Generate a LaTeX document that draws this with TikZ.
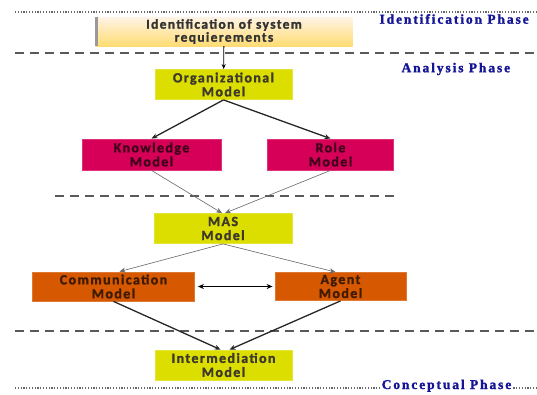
\documentclass[tikz,border=0pt]{standalone}
\usepackage{fontspec}
\setmainfont{Carlito}
\newfontfamily\phasefont[LetterSpace=14, BoldFeatures={FakeBold=1.5}]{Liberation Serif}
\newfontfamily\boxfont[LetterSpace=10, BoldFeatures={FakeBold=1.6}]{Carlito}
\usetikzlibrary{arrows.meta}

\definecolor{modelyellow}{RGB}{220,222,0}
\definecolor{modelred}{RGB}{214,0,88}
\definecolor{modelorange}{RGB}{214,88,0}
\definecolor{phaseblue}{RGB}{20,20,150}

\tikzset{
  model/.style={draw=#1!80!white, fill=#1, line width=0.8pt, minimum height=30pt,
    align=center, font=\boxfont\bfseries\fontsize{14}{14}\selectfont, inner sep=1pt},
  phase/.style={text=phaseblue, font=\phasefont\bfseries\fontsize{13.5}{13}\selectfont, anchor=west},
  fat/.style={-{Stealth[length=6pt,width=5pt]}, line width=1.3pt, black!85},
  thin/.style={-{Stealth[length=6pt,width=5pt]}, line width=0.6pt, black!60},
  sep/.style={line width=1.3pt, black!65, dash pattern=on 9pt off 6pt},
  dots/.style={line width=1.4pt, black!60, dash pattern=on 1.2pt off 1.6pt}
}

\begin{document}
\begin{tikzpicture}[x=1pt,y=-1pt]
\useasboundingbox (0,0) rectangle (537,394);

% phase separators
\draw[dots] (15,12) -- (537,12);
\draw[sep] (15,53) -- (537,53);
\draw[sep] (55,196) -- (398,196);
\draw[sep] (15,331) -- (537,331);
\draw[dots] (15,388) -- (537,388);

\node[phase] (idph) at (376,19) {Identification Phase};
\node[phase] (anph) at (398,69) {Analysis Phase};
\node[phase, anchor=base west, fill=white, inner sep=0.5pt] (coph) at (381,389) {Conceptual Phase};

% boxes
\node[draw=none, top color=yellow!8!orange!10, bottom color=yellow!50!orange!55, minimum width=257pt, minimum height=29pt,
  align=center, text=black!80, font=\boxfont\bfseries\fontsize{13.5}{13}\selectfont, inner sep=1pt] (ident) at (224,31.5)
  {Identification of system\\requierements};
\draw[black!40, line width=3pt] ([xshift=1.5pt]ident.south west) -- ([xshift=1.5pt]ident.north west);

\node[model=modelyellow, text=black!75!olive, minimum width=137pt] (org) at (223.5,84.5) {Organizational\\Model};
\node[model=modelred, text=black!70!modelred, minimum width=139pt, minimum height=31pt] (know) at (151.5,154.5) {Knowledge\\Model};
\node[model=modelred, text=black!70!modelred, minimum width=126pt, minimum height=31pt] (role) at (330.5,154.5) {Role\\Model};
\node[model=modelyellow, text=black!75!olive, minimum width=138pt] (mas) at (223,228.5) {MAS\\Model};
\node[model=modelorange, text=black!70!modelorange, minimum width=162pt, minimum height=29pt] (comm) at (113.5,286.5) {Communication\\Model};
\node[model=modelorange, text=black!70!modelorange, minimum width=131pt, minimum height=28pt] (agent) at (340.5,286.5) {Agent\\Model};
\node[model=modelyellow, text=black!75!olive, minimum width=137pt, minimum height=30pt] (inter) at (223.5,365) {Intermediation\\Model};

% connectors
\draw[-{Stealth[length=5pt,width=4pt]}, line width=0.8pt] (ident) -- (org);
\draw[fat] (org.south) -- (know.north);
\draw[fat] (org.south) -- (role.north);
\draw[thin] (know.south) -- ([xshift=-1pt]mas.north);
\draw[thin] (role.south) -- ([xshift=2pt]mas.north);
\draw[thin] (mas.south) -- ([xshift=6pt]comm.north);
\draw[thin] (mas.south) -- ([xshift=-5pt]agent.north);
\draw[{Stealth[length=6pt,width=5pt]}-{Stealth[length=6pt,width=5pt]}, line width=1pt] ([xshift=3pt]comm.east) -- ([xshift=-2pt]agent.west);
\draw[fat] (comm.south) -- ([xshift=-3pt]inter.north);
\draw[fat] (agent.south) -- ([xshift=6pt]inter.north);
\end{tikzpicture}
\end{document}
